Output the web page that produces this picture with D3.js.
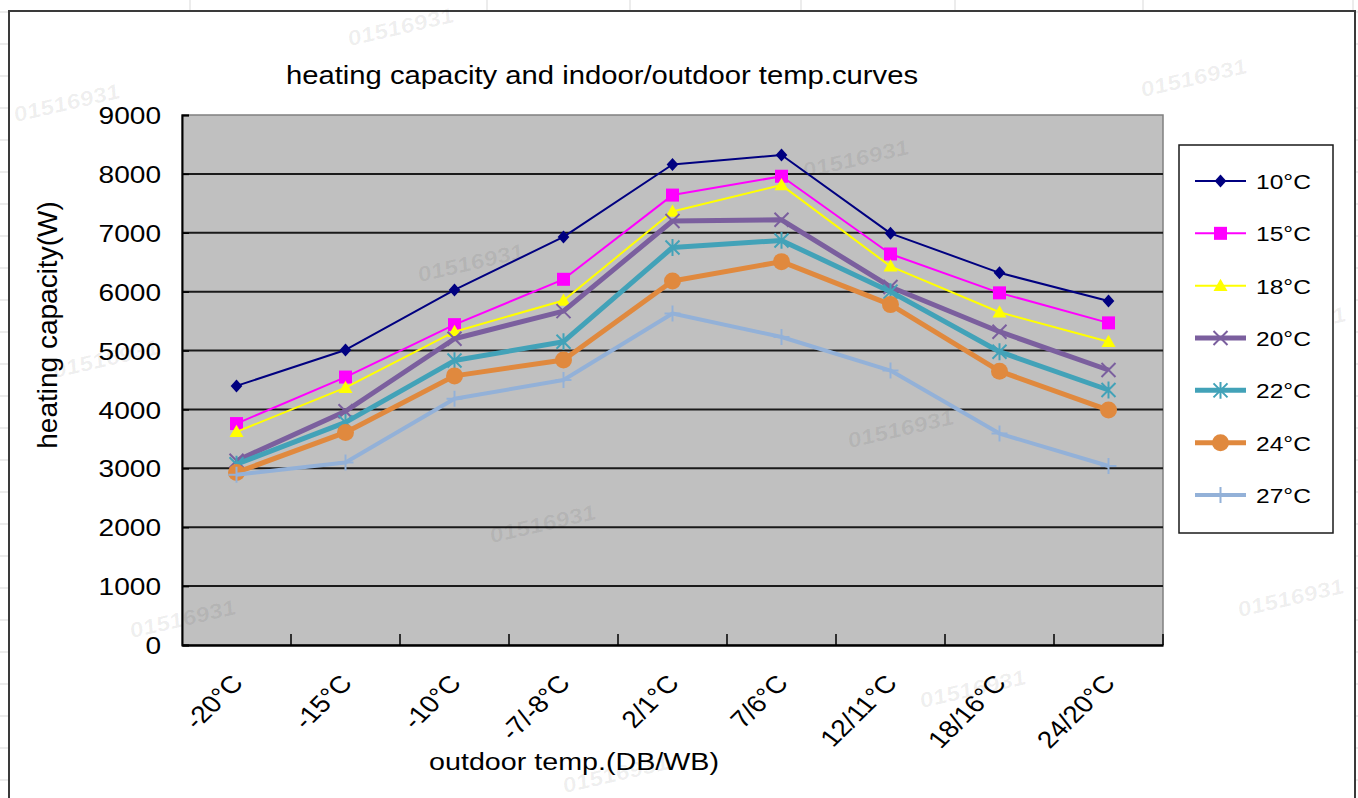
<!DOCTYPE html>
<html>
<head>
<meta charset="utf-8">
<script src="https://cdn.jsdelivr.net/npm/d3@7"></script>
<style>
  html, body { margin: 0; padding: 0; background: #fff; }
  svg { display: block; }
  text { font-family: "Liberation Sans", Arial, sans-serif; fill: #000; }
</style>
</head>
<body>
<svg id="chart" width="1358" height="798"></svg>
<script>
// ---------- data ----------
const categories = ["-20°C", "-15°C", "-10°C", "-7/-8°C", "2/1°C", "7/6°C", "12/11°C", "18/16°C", "24/20°C"];
const seriesNames = ["10°C", "15°C", "18°C", "20°C", "22°C", "24°C", "27°C"];
const s10 = [4400, 5010, 6030, 6930, 8160, 8320, 6990, 6320, 5840];
const s15 = [3760, 4550, 5440, 6210, 7640, 7960, 6640, 5980, 5470];
const s18 = [3620, 4370, 5320, 5850, 7360, 7810, 6430, 5650, 5150];
const s20 = [3130, 3970, 5200, 5670, 7200, 7220, 6080, 5320, 4670];
const s22 = [3070, 3780, 4830, 5150, 6750, 6870, 6000, 4980, 4330];
const s24 = [2930, 3610, 4570, 4840, 6180, 6510, 5780, 4650, 3990];
const s27 = [2890, 3100, 4180, 4500, 5630, 5230, 4660, 3590, 3040];
const yTicks = [0, 1000, 2000, 3000, 4000, 5000, 6000, 7000, 8000, 9000];
const titleText = "heating capacity and indoor/outdoor temp.curves";
const xTitle = "outdoor temp.(DB/WB)";
const yTitle = "heating capacity(W)";
const watermark = "01516931";

// ---------- styles ----------
const styles = [
  {color: "#000080", width: 2,   marker: "diamond"},
  {color: "#FF00FF", width: 2,   marker: "square"},
  {color: "#FFFF00", width: 2,   marker: "triangle"},
  {color: "#7B5F9E", width: 5,   marker: "x"},
  {color: "#42A2B8", width: 5,   marker: "star"},
  {color: "#E0893E", width: 5,   marker: "circle"},
  {color: "#93B1D8", width: 4,   marker: "plus"}
];
const allSeries = [s10, s15, s18, s20, s22, s24, s27];
const SX = 1.17; // horizontal stretch of the original rendering

const svg = d3.select("#chart");

// ---------- spreadsheet background ----------
const sheet = svg.append("g");
sheet.append("rect").attr("width", 1358).attr("height", 798).attr("fill", "#fff");
[190, 487, 630, 801, 955, 1143, 1353].forEach(x =>
  sheet.append("line").attr("x1", x).attr("x2", x).attr("y1", 0).attr("y2", 798)
    .attr("stroke", "#d9d9d9").attr("stroke-width", 1));
for (let y = 12; y < 798; y += 32) {
  sheet.append("line").attr("x1", 0).attr("x2", 1358).attr("y1", y).attr("y2", y)
    .attr("stroke", "#d9d9d9").attr("stroke-width", 1);
}
// chart area
svg.append("rect").attr("x", 9).attr("y", 11).attr("width", 1346).attr("height", 820)
  .attr("fill", "#fff").attr("stroke", "#3a3a3a").attr("stroke-width", 2);

// ---------- scales ----------
const plot = {left: 182, right: 1163, top: 115, bottom: 645};
const x = d3.scaleBand().domain(categories).range([plot.left, plot.right]).padding(0);
const y = d3.scaleLinear().domain([0, 9000]).range([plot.bottom, plot.top]);
const cx = c => x(c) + x.bandwidth() / 2;

// plot background
svg.append("rect").attr("x", plot.left).attr("y", plot.top)
  .attr("width", plot.right - plot.left).attr("height", plot.bottom - plot.top)
  .attr("fill", "#C0C0C0").attr("stroke", "#808080").attr("stroke-width", 1.5);

// gridlines
svg.append("g").selectAll("line").data(yTicks.filter(t => t > 0 && t < 9000)).join("line")
  .attr("x1", plot.left).attr("x2", plot.right)
  .attr("y1", d => y(d)).attr("y2", d => y(d))
  .attr("stroke", "#1a1a1a").attr("stroke-width", 2);

// watermarks
const wm = [[350, 46], [16, 122], [1143, 97], [420, 282], [805, 178], [55, 378], [850, 448],
            [492, 543], [132, 638], [922, 708], [1240, 617], [565, 793], [1242, 345]];
svg.append("g").selectAll("text").data(wm).join("text")
  .attr("transform", d => `translate(${d[0]},${d[1]}) scale(${SX},1) rotate(-15)`)
  .style("font-size", "21px").style("font-weight", "bold").style("font-style", "italic")
  .style("fill", "rgba(0,0,0,0.065)")
  .text(watermark);

// y axis
const yAxis = svg.append("g").attr("transform", `translate(${plot.left},0)`)
  .call(d3.axisLeft(y).tickValues(yTicks).tickSize(-7).tickPadding(0).tickFormat(d3.format("d")));
yAxis.select(".domain").attr("stroke", "#000").attr("stroke-width", 2);
yAxis.selectAll(".tick line").attr("stroke", "#000").attr("stroke-width", 1.5);
yAxis.selectAll(".tick text")
  .attr("x", null).attr("dy", "0.36em")
  .attr("transform", `translate(-21,0) scale(${SX},1)`)
  .attr("text-anchor", "end")
  .style("font-size", "24px").style("font-family", "'Liberation Sans', Arial, sans-serif");

// x axis
const xAxis = svg.append("g").attr("transform", `translate(0,${plot.bottom})`)
  .call(d3.axisBottom(x).tickSize(0).tickPadding(0));
xAxis.select(".domain").attr("stroke", "#000").attr("stroke-width", 2.5);
xAxis.selectAll(".tick text")
  .attr("y", null).attr("dy", null)
  .attr("transform", `translate(8,39) scale(${SX},1) rotate(-49)`)
  .attr("text-anchor", "end")
  .style("font-size", "24px").style("font-family", "'Liberation Sans', Arial, sans-serif");
// boundary tick marks (pointing inward)
svg.append("g").selectAll("line").data(categories.slice(1).map(c => x(c)).concat([plot.right])).join("line")
  .attr("x1", d => d).attr("x2", d => d)
  .attr("y1", plot.bottom).attr("y2", plot.bottom - 11)
  .attr("stroke", "#000").attr("stroke-width", 1.5);

// ---------- markers ----------
function drawMarker(g, type, color, px, py, scale) {
  const s = scale || 1;
  if (type === "diamond") {
    const r = 6.5 * s;
    g.append("path").attr("d", `M${px},${py - r}L${px + r * 0.9},${py}L${px},${py + r}L${px - r * 0.9},${py}Z`).attr("fill", color);
  } else if (type === "square") {
    const r = 6.5 * s;
    g.append("rect").attr("x", px - r).attr("y", py - r).attr("width", 2 * r).attr("height", 2 * r).attr("fill", color);
  } else if (type === "triangle") {
    const r = 7 * s;
    g.append("path").attr("d", `M${px},${py - r}L${px + r},${py + r * 0.75}L${px - r},${py + r * 0.75}Z`).attr("fill", color);
  } else if (type === "x") {
    const r = 7 * s;
    g.append("path").attr("d", `M${px - r},${py - r}L${px + r},${py + r}M${px - r},${py + r}L${px + r},${py - r}`)
      .attr("stroke", color).attr("stroke-width", 2).attr("fill", "none");
  } else if (type === "star") {
    const r = 7 * s;
    g.append("path").attr("d", `M${px - r},${py - r}L${px + r},${py + r}M${px - r},${py + r}L${px + r},${py - r}M${px},${py - r * 1.2}L${px},${py + r * 1.2}`)
      .attr("stroke", color).attr("stroke-width", 2).attr("fill", "none");
  } else if (type === "circle") {
    g.append("circle").attr("cx", px).attr("cy", py).attr("r", 8.5 * s).attr("fill", color);
  } else if (type === "plus") {
    const r = 8 * s;
    g.append("path").attr("d", `M${px - r},${py}L${px + r},${py}M${px},${py - r}L${px},${py + r}`)
      .attr("stroke", color).attr("stroke-width", 2).attr("fill", "none");
  }
}

// ---------- series ----------
const line = d3.line().x((d, i) => cx(categories[i])).y(d => y(d));
allSeries.forEach((vals, si) => {
  const st = styles[si];
  const g = svg.append("g");
  g.append("path").datum(vals).attr("d", line)
    .attr("fill", "none").attr("stroke", st.color).attr("stroke-width", st.width)
    .attr("stroke-linejoin", "round");
  vals.forEach((v, i) => drawMarker(g, st.marker, st.color, cx(categories[i]), y(v)));
});

// ---------- titles ----------
svg.append("text").attr("transform", `translate(602,84) scale(${SX},1)`)
  .attr("text-anchor", "middle").style("font-size", "25px").text(titleText);
svg.append("text").attr("transform", `translate(574,770) scale(${SX},1)`)
  .attr("text-anchor", "middle").style("font-size", "24.5px").text(xTitle);
svg.append("text").attr("transform", `translate(57,325) rotate(-90)`)
  .attr("text-anchor", "middle").style("font-size", "28px").text(yTitle);

// ---------- legend ----------
const lg = svg.append("g");
lg.append("rect").attr("x", 1179).attr("y", 145).attr("width", 154).attr("height", 388)
  .attr("fill", "#fff").attr("stroke", "#1a1a1a").attr("stroke-width", 1.5);
const legendY = d3.scalePoint().domain(seriesNames).range([181, 495]);
seriesNames.forEach((n, i) => {
  const st = styles[i];
  const ly = legendY(n);
  lg.append("line").attr("x1", 1195).attr("x2", 1246).attr("y1", ly).attr("y2", ly)
    .attr("stroke", st.color).attr("stroke-width", st.width);
  drawMarker(lg, st.marker, st.color, 1220.5, ly);
  lg.append("text").attr("transform", `translate(1256,${ly + 8}) scale(${SX},1)`)
    .style("font-size", "21px").text(n);
});
</script>
</body>
</html>
